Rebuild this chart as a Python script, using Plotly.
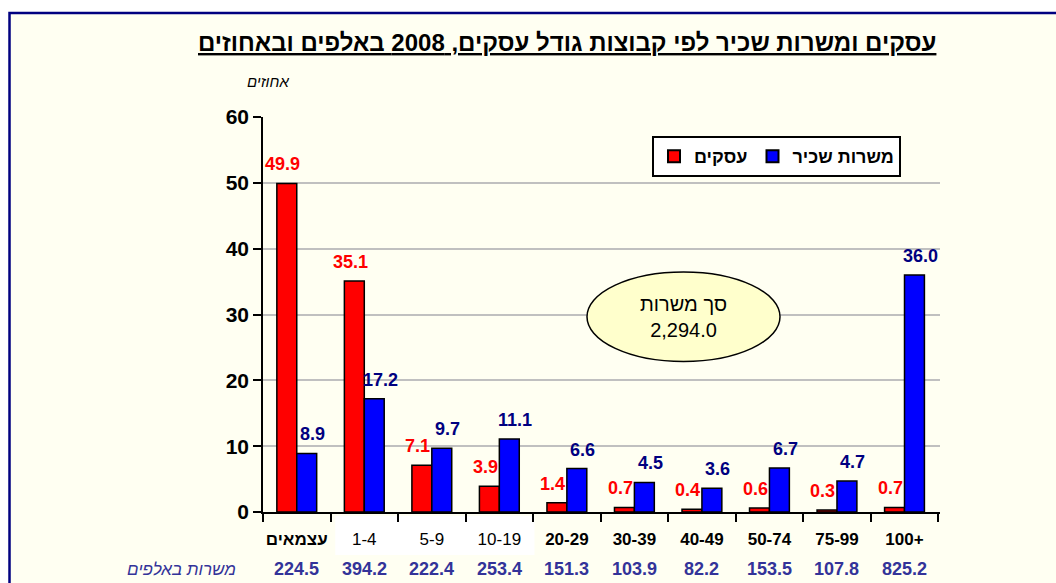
import plotly.graph_objects as go

# ---- data ----
categories = ["עצמאים", "1-4", "5-9", "10-19", "20-29", "30-39", "40-49", "50-74", "75-99", "100+"]
bold_labels = [True, False, False, False, True, True, True, True, True, True]
businesses_pct = [49.9, 35.1, 7.1, 3.9, 1.4, 0.7, 0.4, 0.6, 0.3, 0.7]
jobs_pct = [8.9, 17.2, 9.7, 11.1, 6.6, 4.5, 3.6, 6.7, 4.7, 36.0]
jobs_thousands = [224.5, 394.2, 222.4, 253.4, 151.3, 103.9, 82.2, 153.5, 107.8, 825.2]
total_jobs = 2294.0
y_ticks = [0, 10, 20, 30, 40, 50, 60]

series_names = ["עסקים", "משרות שכיר"]
title_text = "עסקים ומשרות שכיר לפי קבוצות גודל עסקים, 2008 באלפים ובאחוזים"
y_title = "אחוזים"
row_title = "משרות באלפים"
ellipse_title = "סך משרות"

# ---- layout geometry (pixels) ----
W, H = 1056, 583
L, R, T, B = 263, 116, 117, 71
pw, ph = W - L - R, H - T - B


def px(xp):
    return (xp - L) / pw


def py(yp):
    return (H - B - yp) / ph


FONT = "Arial, Liberation Sans, DejaVu Sans, sans-serif"
RED = "#FF0000"
BLUE = "#0000FF"
NAVY = "#000080"
ROW = "#333399"
IVORY = "#FFFFF2"

fig = go.Figure()
fig.add_trace(go.Bar(x=categories, y=businesses_pct, name=series_names[0],
                     marker=dict(color=RED, line=dict(color="black", width=1.5))))
fig.add_trace(go.Bar(x=categories, y=jobs_pct, name=series_names[1],
                     marker=dict(color=BLUE, line=dict(color="black", width=1.5))))

ticktext = [f"<b>{c}</b>" if b else c for c, b in zip(categories, bold_labels)]

annotations = []
for c, v in zip(categories, businesses_pct):
    annotations.append(dict(x=c, y=v, xref="x", yref="y", text=f"<b>{v:.1f}</b>",
                            showarrow=False, xshift=-14, yshift=19, yanchor="middle",
                            font=dict(family=FONT, size=18, color=RED)))
for c, v in zip(categories, jobs_pct):
    annotations.append(dict(x=c, y=v, xref="x", yref="y", text=f"<b>{v:.1f}</b>",
                            showarrow=False, xshift=16, yshift=19, yanchor="middle",
                            font=dict(family=FONT, size=18, color=NAVY)))
for c, v in zip(categories, jobs_thousands):
    annotations.append(dict(x=c, y=py(569), xref="x", yref="paper", text=f"<b>{v:.1f}</b>",
                            showarrow=False, yanchor="middle",
                            font=dict(family=FONT, size=18, color=ROW)))
annotations.append(dict(x=px(238), y=py(569), xref="paper", yref="paper",
                        text=f"<i>{row_title}</i>", showarrow=False, xanchor="right",
                        yanchor="middle", font=dict(family=FONT, size=17, color=ROW)))
annotations.append(dict(x=px(268), y=py(82), xref="paper", yref="paper",
                        text=f"<i>{y_title}</i>", showarrow=False, xanchor="center",
                        yanchor="middle", font=dict(family=FONT, size=15, color="black")))
annotations.append(dict(x=px(567), y=py(42), xref="paper", yref="paper",
                        text=f"<b><u>{title_text}</u></b>", showarrow=False,
                        xanchor="center", yanchor="middle",
                        font=dict(family=FONT, size=24, color="black")))
annotations.append(dict(x=px(683), y=py(317), xref="paper", yref="paper",
                        text=f"{ellipse_title}<br>{total_jobs:,.1f}", showarrow=False,
                        xanchor="center", yanchor="middle",
                        font=dict(family=FONT, size=20, color="black")))

shapes = [
    # outer frame
    dict(type="rect", xref="paper", yref="paper", x0=px(9.5), y0=py(H + 20), x1=px(W + 20),
         y1=py(13), fillcolor=IVORY, line=dict(color=NAVY, width=2.5), layer="below"),
    # white box behind regular tick labels
    dict(type="rect", xref="x", yref="paper", x0=0.57, x1=3.52, y0=py(555), y1=py(516),
         fillcolor="white", line=dict(width=0), layer="below"),
    # ellipse
    dict(type="circle", xref="paper", yref="paper", x0=px(587), x1=px(780), y0=py(361.5),
         y1=py(272), fillcolor="#FFFFCC", line=dict(color="black", width=1.5), layer="above"),
]

fig.update_layout(
    width=W, height=H,
    margin=dict(l=L, r=R, t=T, b=B, autoexpand=False),
    paper_bgcolor="white", plot_bgcolor=IVORY,
    barmode="group", bargap=0.41, bargroupgap=0,
    showlegend=True,
    legend=dict(orientation="h", x=px(652), y=py(136), xanchor="left", yanchor="top",
                bgcolor="white", bordercolor="black", borderwidth=2,
                font=dict(family=FONT, size=18, color="black", weight="bold"),
                itemsizing="constant"),
    xaxis=dict(type="category", tickvals=categories, ticktext=ticktext, tickangle=0,
               automargin=False,
               tickfont=dict(family=FONT, size=17, color="black"),
               showline=True, linecolor="black", linewidth=2,
               ticks="outside", tickson="boundaries", ticklen=8, tickcolor="black",
               tickwidth=1.5, showgrid=False, ticklabelstandoff=11),
    yaxis=dict(range=[0, 60], tickvals=y_ticks, showline=True, linecolor="black",
               linewidth=1.5, ticks="outside", ticklen=8, tickcolor="black", tickwidth=1.5,
               showgrid=True, gridcolor="#C0C0C0", gridwidth=1.5, zeroline=False,
               automargin=False,
               tickfont=dict(family=FONT, size=21, color="black", weight="bold")),
    annotations=annotations,
    shapes=shapes,
)

fig.write_html("out.html", post_script="document.body.style.margin='0';",
               config={"displayModeBar": False})
